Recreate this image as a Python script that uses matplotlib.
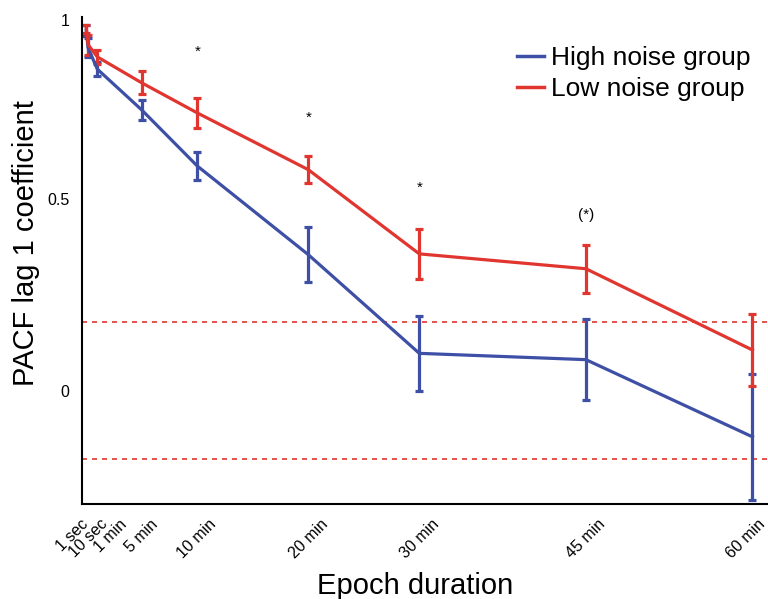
import numpy as np
import matplotlib
matplotlib.use("Agg")
import matplotlib.pyplot as plt
import matplotlib.transforms as mtransforms
from matplotlib.lines import Line2D

# Data (epoch durations in minutes)
epoch_min = [1 / 60, 10 / 60, 1, 5, 10, 20, 30, 45, 60]
tick_labels = ["1 sec", "10 sec", "1 min", "5 min", "10 min",
               "20 min", "30 min", "45 min", "60 min"]

high_mean = [0.970, 0.925, 0.867, 0.757, 0.606, 0.367, 0.101, 0.084, -0.124]
high_err = [0.015, 0.025, 0.018, 0.028, 0.038, 0.074, 0.101, 0.109, 0.170]

low_mean = [0.976, 0.933, 0.900, 0.830, 0.749, 0.596, 0.369, 0.329, 0.110]
low_err = [0.011, 0.027, 0.018, 0.031, 0.040, 0.037, 0.067, 0.065, 0.096]

conf_bound = 0.185

sig_x = [10, 20, 30, 45]
sig_y = [0.913, 0.736, 0.547, 0.474]
sig_text = ["*", "*", "*", "(*)"]

BLUE = "#3E4FA6"
RED = "#E0362F"

# crowded labels nudged apart (pixels)
label_shift = [-14, 0, 13, 0, 0, 0, 0, 0, -7]


def shift_text(txt, dx, dy):
    off = mtransforms.ScaledTranslation(dx / 100, dy / 100, fig.dpi_scale_trans)
    txt.set_transform(txt.get_transform() + off)


plt.rcParams["font.family"] = ["Liberation Sans", "DejaVu Sans"]

fig = plt.figure(figsize=(7.68, 5.99), dpi=100)
ax = fig.add_axes([0.107, 0.1586, 0.893, 0.8134])

ax.axhline(conf_bound, color=RED, linestyle=(0, (3, 3)), linewidth=1.2)
ax.axhline(-conf_bound, color=RED, linestyle=(0, (3, 3)), linewidth=1.2)

ax.errorbar(epoch_min, high_mean, yerr=high_err, color=BLUE, linewidth=2.3,
            elinewidth=2.3, capsize=3, capthick=2.3)
ax.errorbar(epoch_min, low_mean, yerr=low_err, color=RED, linewidth=2.3,
            elinewidth=2.3, capsize=3, capthick=2.3)

for x, y, s in zip(sig_x, sig_y, sig_text):
    ax.text(x, y, s, ha="center", va="center", fontsize=11)

ax.set_xlim(-0.36, 61.4)
ax.set_ylim(-0.305, 1.008)

ax.set_yticks([0, 0.5, 1])
ax.set_yticklabels(["0", "0.5", "1"])
ax.set_xticks(epoch_min)
ax.set_xticklabels(tick_labels, rotation=45, ha="center", va="top")
ax.tick_params(axis="both", length=0, labelsize=11.5)
ax.tick_params(axis="y", pad=9)
ax.tick_params(axis="x", pad=9)

for lab, dx in zip(ax.get_xticklabels(), label_shift):
    shift_text(lab, dx, 0)
# the 0.5 label sits a little high in the original
shift_text(ax.get_yticklabels()[1], 0, 6)

ax.spines["top"].set_visible(False)
ax.spines["right"].set_visible(False)
ax.spines["left"].set_linewidth(1.5)
ax.spines["bottom"].set_linewidth(1.5)

ax.set_ylabel("PACF lag 1 coefficient", fontsize=21)
ax.yaxis.set_label_coords(-0.061, 0.536)
ax.set_xlabel("Epoch duration", fontsize=21)
ax.xaxis.set_label_coords(0.485, -0.14)

handles = [Line2D([], [], color=BLUE, linewidth=2.5),
           Line2D([], [], color=RED, linewidth=2.5)]
ax.legend(handles, ["High noise group", "Low noise group"],
          loc="upper right", fontsize=19, frameon=False,
          handlelength=1.05, handletextpad=0.27, labelspacing=0.26,
          borderaxespad=0, bbox_to_anchor=(0.9915, 0.94),
          bbox_transform=fig.transFigure)

fig.savefig("out.png", dpi=100)
